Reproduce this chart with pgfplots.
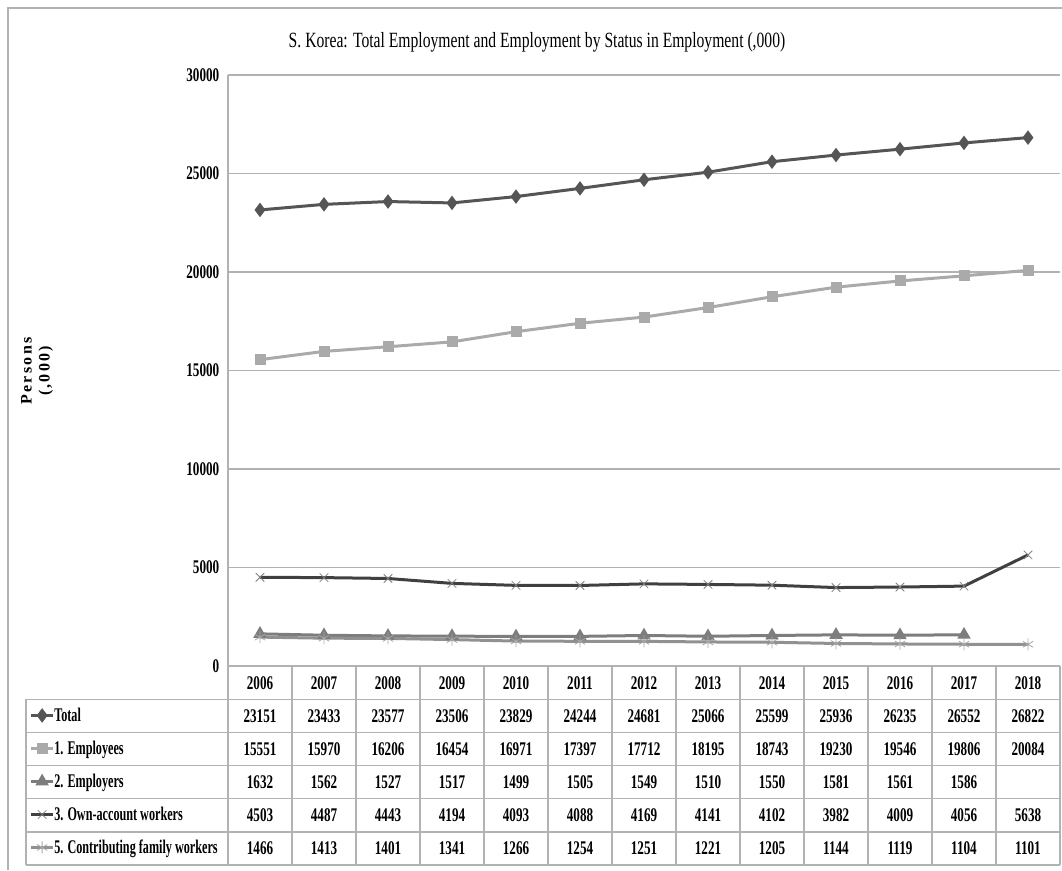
\documentclass[border=0pt]{standalone}
\usepackage{pgfplots}
\pgfplotsset{compat=1.18}
\usepackage{pgfplotstable}
\usepackage{fontspec}
\setmainfont{Liberation Serif}
\newfontfamily\condfont[FakeStretch=0.68]{Liberation Serif}
\newfontfamily\legfont[FakeStretch=0.63]{Liberation Serif}
\newfontfamily\titlefont[FakeStretch=0.72]{Liberation Serif}
\newfontfamily\labfont[LetterSpace=14]{Liberation Serif}
\newcommand{\tabfont}{\condfont\bfseries\fontsize{14.5pt}{16pt}\selectfont}

\definecolor{cTotal}{RGB}{85,85,85}
\definecolor{cEmpl}{RGB}{170,170,170}
\definecolor{cEmplr}{RGB}{125,125,125}
\definecolor{cOwn}{RGB}{64,64,64}
\definecolor{cContr}{RGB}{145,145,145}
\definecolor{cGrid}{RGB}{178,178,178}

% year, then thousands of persons
\pgfplotstableread{
x year total empl emplr own contrib
0 2006 23151 15551 1632 4503 1466
1 2007 23433 15970 1562 4487 1413
2 2008 23577 16206 1527 4443 1401
3 2009 23506 16454 1517 4194 1341
4 2010 23829 16971 1499 4093 1266
5 2011 24244 17397 1505 4088 1254
6 2012 24681 17712 1549 4169 1251
7 2013 25066 18195 1510 4141 1221
8 2014 25599 18743 1550 4102 1205
9 2015 25936 19230 1581 3982 1144
10 2016 26235 19546 1561 4009 1119
11 2017 26552 19806 1586 4056 1104
12 2018 26822 20084 nan 5638 1101
}\data

\def\u{0.75pt}
\def\nanstr{nan}

\begin{document}
\begin{tikzpicture}
\path[use as bounding box] (0,0) rectangle (1062*\u,-870*\u);
% outer frame of the chart area
\draw[cGrid, line width=1.5pt] (8*\u,-870*\u) -- (8*\u,-8*\u) -- (1062*\u,-8*\u);

\node[font=\titlefont\fontsize{16.3pt}{18pt}\selectfont] at (537*\u,-42*\u)
  {S. Korea: Total Employment and Employment by Status in Employment (,000)};

\node[rotate=90, align=center, font=\labfont\bfseries\fontsize{12pt}{13.5pt}\selectfont] at (37*\u,-371*\u)
  {Persons\\(,000)};

\begin{axis}[
    at={(228*\u,-666*\u)}, anchor=south west,
    scale only axis,
    width=624pt, height=443.25pt,
    xmin=-0.5, xmax=12.5,
    ymin=0, ymax=30000,
    xtick=\empty,
    ytick={0,5000,...,30000},
    scaled y ticks=false,
    /pgf/number format/1000 sep={},
    /pgf/number format/assume math mode=true,
    yticklabel style={font=\tabfont, xshift=-3pt},
    major tick length=0pt,
    axis y line*=left, axis x line*=bottom,
    axis line style={cGrid, line width=1pt},
    ymajorgrids,
    major grid style={cGrid, line width=1pt},
    clip=false,
    legend style={at={(axis description cs:-0.238,-0.0558)}, anchor=north west,
      draw=none, fill=none, inner sep=0pt, outer sep=0pt,
      row sep=0pt, column sep=0pt, font=\legfont\bfseries\fontsize{14.5pt}{16pt}\selectfont,
      nodes={inner sep=0pt, text height=17pt, text depth=7.75pt}},
    legend cell align=left,
    legend image code/.code={\draw[mark repeat=2, mark phase=2] plot coordinates {(0pt,0pt) (8pt,0pt) (16pt,0pt)};},
    every even column/.append style={column sep=2pt},
]
\addplot[cTotal, line width=2.25pt, mark=diamond*, mark size=3.6pt] table[x=x, y=total]{\data};
\addlegendentry{Total}
\addplot[cEmpl, line width=2.25pt, mark=square*, mark size=3pt] table[x=x, y=empl]{\data};
\addlegendentry{1. Employees}
\addplot[cEmplr, line width=2.25pt, mark=triangle*, mark size=3.6pt] table[x=x, y=emplr]{\data};
\addlegendentry{2. Employers}
\addplot[cOwn, line width=2.25pt, mark=x, mark size=4.5pt, mark options={gray, line width=0.6pt}] table[x=x, y=own]{\data};
\addlegendentry{3. Own-account workers}
\addplot[cContr, line width=2.25pt, mark=asterisk, mark size=4.5pt, mark options={cContr!80, line width=0.6pt}] table[x=x, y=contrib]{\data};
\addlegendentry{5. Contributing family workers}
\end{axis}

% data table under the plot
\begin{scope}[cGrid, line width=1pt]
  \foreach \k in {0,...,13} \draw ({(228+64*\k)*\u},-666*\u) -- ({(228+64*\k)*\u},-865*\u);
  \draw (26*\u,-699.2*\u) -- (26*\u,-865*\u);
  \foreach \k in {1,...,6} \draw (26*\u,{-(666+33.17*\k)*\u}) -- (1060*\u,{-(666+33.17*\k)*\u});
\end{scope}
\foreach \c [count=\i from 0] in {year,total,empl,emplr,own,contrib}{
  \foreach \r in {0,...,12}{
    \pgfplotstablegetelem{\r}{\c}\of\data
    \ifx\pgfplotsretval\nanstr\else
      \node[font=\tabfont, anchor=base, inner sep=0pt] at ({(228+64*(\r+0.5))*\u},{-(682.6+33.17*\i+6.5)*\u}) {\pgfplotsretval};
    \fi
  }
}
\end{tikzpicture}
\end{document}
